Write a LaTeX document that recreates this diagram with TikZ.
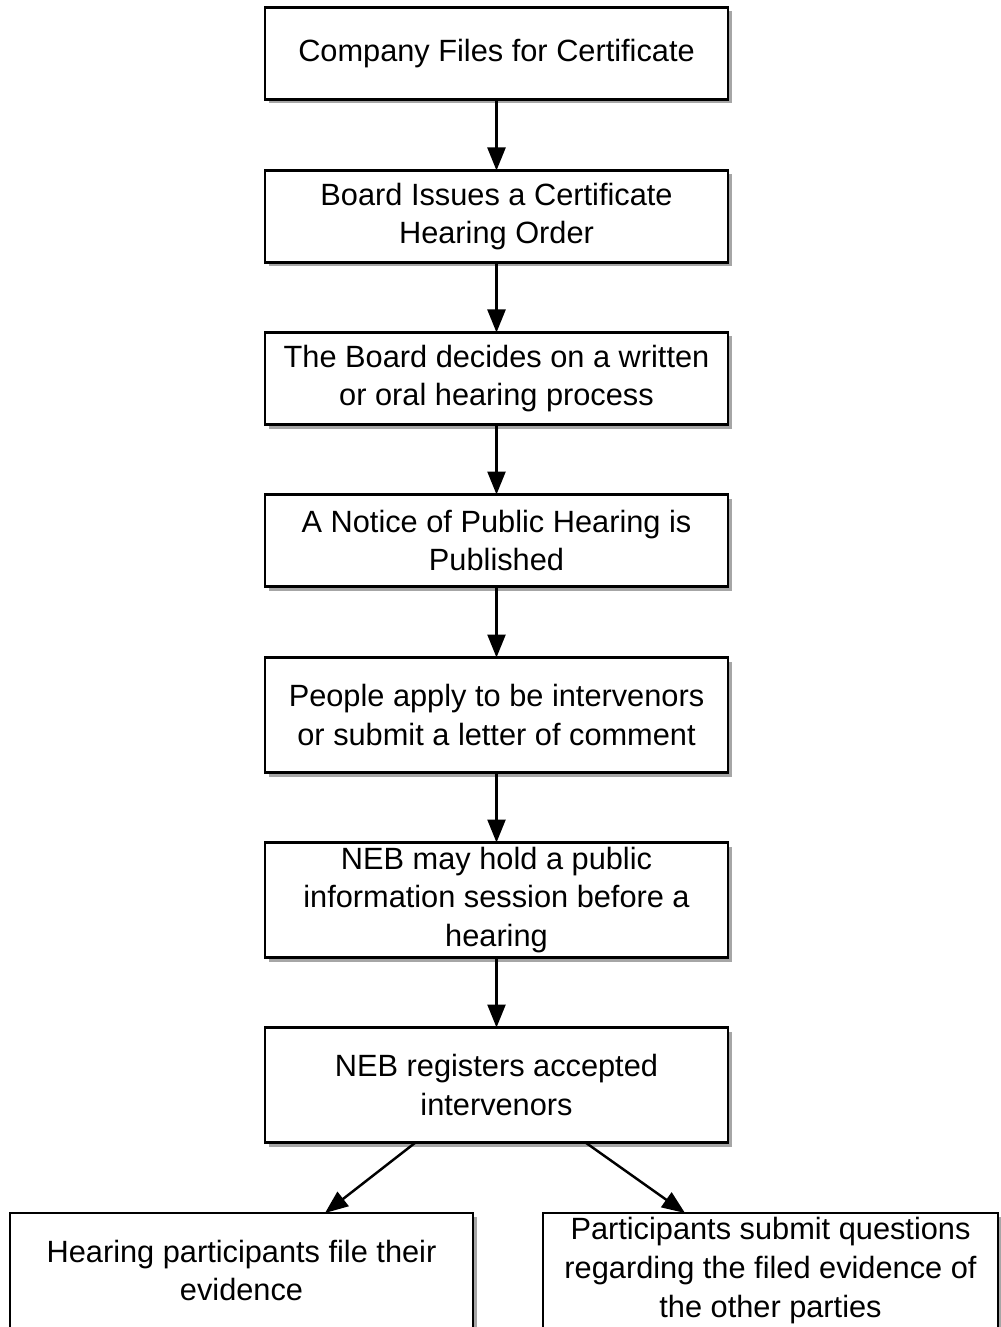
\documentclass[tikz,border=0pt]{standalone}
\usepackage{fontspec}
\setmainfont{Liberation Sans}
\usepackage{tikz}
\usetikzlibrary{positioning, arrows.meta, shadows}

\tikzset{
    stepbox/.style={draw, line width=1.3pt, fill=white, align=center,
        minimum width=9.26cm, minimum height=1.84cm, inner sep=2pt, outer sep=0pt,
        font=\fontsize{17.5}{22}\selectfont,
        drop shadow={shadow xshift=0.08cm, shadow yshift=-0.08cm, fill=black, opacity=0.35}},
    tallbox/.style={stepbox, minimum height=2.3cm},
    flow/.style={-{Triangle[length=0.46cm, width=0.36cm]}, line width=1.4pt}
}

\begin{document}
\begin{tikzpicture}
    \useasboundingbox (0,0) rectangle (20,-26.54);

    \node (files) [stepbox] at (9.93,-1.07) {Company Files for Certificate};
    \node (order) [stepbox, below=1.42cm of files] {Board Issues a Certificate\\Hearing Order};
    \node (decide) [stepbox, below=1.40cm of order] {The Board decides on a written\\or oral hearing process};
    \node (notice) [stepbox, below=1.40cm of decide] {A Notice of Public Hearing is\\Published};
    \node (apply) [tallbox, below=1.42cm of notice] {People apply to be intervenors\\or submit a letter of comment};
    \node (session) [tallbox, below=1.40cm of apply] {NEB may hold a public\\information session before a\\hearing};
    \node (register) [tallbox, below=1.40cm of session] {NEB registers accepted\\intervenors};

    \node (evidence) [tallbox, anchor=north] at (4.83,-24.26) {Hearing participants file their\\evidence};
    \node (questions) [tallbox, anchor=north, minimum width=9.1cm] at (15.41,-24.26)
        {Participants submit questions\\regarding the filed evidence of\\the other parties};

    \draw [flow] (files) -- (order);
    \draw [flow] (order) -- (decide);
    \draw [flow] (decide) -- (notice);
    \draw [flow] (notice) -- (apply);
    \draw [flow] (apply) -- (session);
    \draw [flow] (session) -- (register);
    \draw [flow] ([xshift=-1.62cm]register.south) -- ([xshift=1.67cm]evidence.north);
    \draw [flow] ([xshift=1.78cm]register.south) -- ([xshift=-1.71cm]questions.north);
\end{tikzpicture}
\end{document}
